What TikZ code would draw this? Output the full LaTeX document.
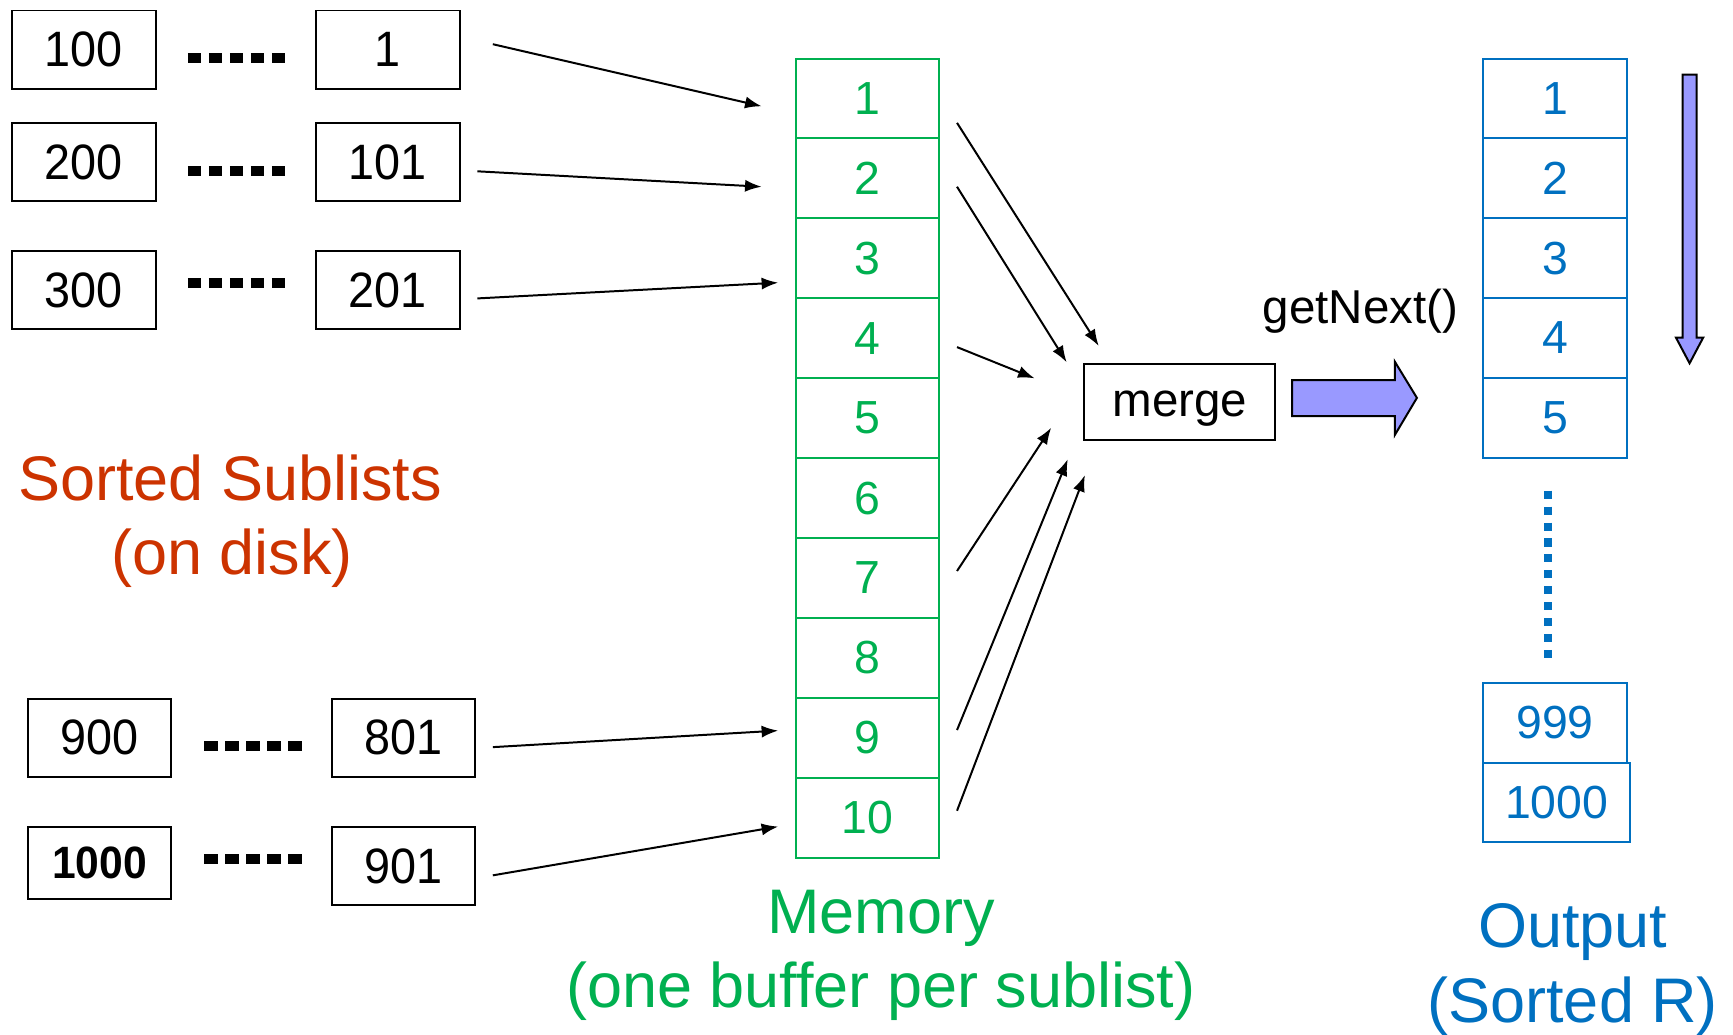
\documentclass[tikz,border=0pt]{standalone}
\usepackage{fontspec}
\setmainfont{Liberation Sans}
\newfontfamily\narrowfont[FakeStretch=0.94]{Liberation Sans}
\usetikzlibrary{arrows.meta,calc}

\definecolor{memgreen}{HTML}{00B050}
\definecolor{outblue}{HTML}{0070C0}
\definecolor{diskred}{HTML}{CC3300}
\definecolor{flowfill}{HTML}{9999FF}

\tikzset{
  diskbox/.style={draw=black, line width=1.8, minimum width=130, minimum height=71,
    inner sep=0, font=\narrowfont\fontsize{45}{45}\selectfont},
  memcell/.style={draw=memgreen, line width=1.8, minimum width=130, minimum height=72.3,
    inner sep=0, text=memgreen, font=\fontsize{42}{42}\selectfont},
  outcell/.style={draw=outblue, line width=1.8, minimum width=130, minimum height=72.2,
    inner sep=0, text=outblue, font=\fontsize{42}{42}\selectfont},
  feed/.style={-{Latex[length=15,width=11]}, line width=1.8},
  dotrow/.style={line width=9, dash pattern=on 12.2 off 6.8},
  caption/.style={inner sep=0, anchor=base, font=\fontsize{57}{57}\selectfont},
  blockarrow/.style={draw=black, line width=1.8, fill=flowfill, line join=miter},
}

\begin{document}
\begin{tikzpicture}[x=1pt, y=-1pt]
  \path[use as bounding box] (0,0) rectangle (1568,936);

  % sorted sublists on disk
  \node[diskbox] (s1l) at (76,45) {100};
  \node[diskbox] (s1r) at (351,45) {1};
  \node[diskbox] (s2l) at (76,146.5) {200};
  \node[diskbox] (s2r) at (351,146.5) {101};
  \node[diskbox] (s3l) at (76,262.5) {300};
  \node[diskbox] (s3r) at (351,262.5) {201};
  \node[diskbox] (s4l) at (90,667.5) {900};
  \node[diskbox] (s4r) at (365,667.5) {801};
  \node[diskbox, minimum height=65, font=\narrowfont\bfseries\fontsize{41}{41}\selectfont] (s5l) at (90,780.5) {1000};
  \node[diskbox] (s5r) at (365,783.5) {901};

  \draw[dotrow] (170,52.8) -- (258,52.8);
  \draw[dotrow] (170,154.5) -- (258,154.5);
  \draw[dotrow] (170,256) -- (258,256);
  \draw[dotrow] (185,674.7) -- (273,674.7);
  \draw[dotrow] (185,777) -- (273,777);

  \node[caption, text=diskred] (sorted) at (208,453) {Sorted Sublists};
  \node[caption, text=diskred] (ondisk) at (210,520) {(on disk)};

  % one buffer per sublist in memory
  \foreach \i in {1,...,10}
    \node[memcell] (m\i) at (785,{53+72.3*(\i-0.5)}) {\i};
  \node[caption, text=memgreen] (memlabel) at (797,845) {Memory};
  \node[caption, text=memgreen] (memnote) at (797,912) {(one buffer per sublist)};

  % disk blocks read into the buffers
  \draw[feed] ($(s1r.east)+(29,-5)$) -- ($(m1.west)+(-30,7)$);
  \draw[feed] ($(s2r.east)+(15,8.5)$) -- ($(m2.west)+(-30,7.5)$);
  \draw[feed] ($(s3r.east)+(15,7.5)$) -- ($(m3.west)+(-15,22)$);
  \draw[feed] ($(s4r.east)+(15,8.5)$) -- ($(m9.west)+(-15,-6.5)$);
  \draw[feed] ($(s5r.east)+(15,8.5)$) -- ($(m10.west)+(-15,8)$);

  % merge step
  \node[draw, line width=1.8, minimum width=173, minimum height=69, inner sep=0,
        text height=27, text depth=0,
        font=\fontsize{43}{43}\selectfont] (merge) at (1067.5,363.5) {merge};

  \draw[feed] ($(m1.east)+(15,22)$) -- ($(merge.west)+(14,-50.5)$);
  \draw[feed] ($(m2.east)+(15,7.5)$) -- ($(merge.west)+(-15,-35.7)$);
  \draw[feed] ($(m4.east)+(15,8)$) -- ($(merge.west)+(-44,-21.2)$);
  \draw[feed] ($(m7.east)+(15,-6.3)$) -- ($(merge.west)+(-29,23.5)$);
  \draw[feed] ($(m9.east)+(15,-7)$) -- ($(merge.west)+(-14,52)$);
  \draw[feed] ($(m10.east)+(15,-6.3)$) -- ($(merge.west)+(1.5,66.3)$);

  \node[inner sep=0, anchor=base, font=\fontsize{43}{43}\selectfont] (getnext) at (1231,293) {getNext()};

  \draw[blockarrow] (1169,344) -- (1262,344) -- (1262,327.2) -- (1282,360) -- (1262,393.6)
    -- (1262,376.5) -- (1169,376.5) -- cycle;

  % sorted output
  \foreach \i in {1,...,5}
    \node[outcell] (o\i) at (1407,{53+72.2*(\i-0.5)}) {\i};
  \draw[outblue, line width=7.3, dash pattern=on 7.3 off 7.1] (1400.7,444) -- (1400.7,598);
  \node[outcell, minimum height=72] (o999) at (1407,654) {999};
  \node[outcell, minimum width=133, minimum height=72] (o1000) at (1408.5,726) {1000};

  \node[caption, text=outblue] (outlabel) at (1423,857) {Output};
  \node[caption, text=outblue] (outnote) at (1423,925) {(Sorted R)};

  % direction in which the output grows
  \draw[blockarrow] (1522.5,67.5) -- (1535,67.5) -- (1535,305.5) -- (1541,305.5) -- (1528.7,328.7)
    -- (1516.4,305.5) -- (1522.5,305.5) -- cycle;
\end{tikzpicture}
\end{document}
